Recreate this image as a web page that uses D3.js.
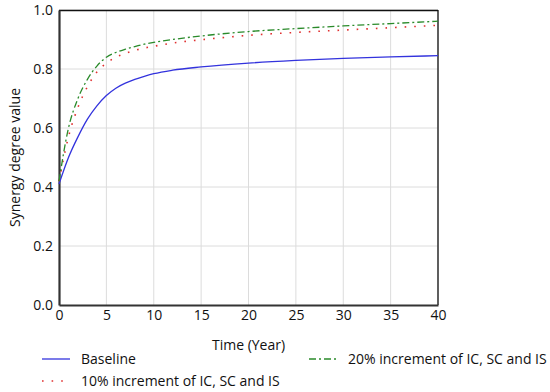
<!DOCTYPE html>
<html><head><meta charset="utf-8">
<script src="https://cdn.jsdelivr.net/npm/d3@7"></script>
<style>body{margin:0;background:#fff;}svg{display:block;font-family:"Open Sans","Noto Sans",sans-serif;}</style>
</head><body><svg id="c" width="550" height="392"></svg>
<script>
const years = [0,1,2,3,4,5,6,7,8,9,10,12,15,20,25,30,35,40];
const baseline = [0.41,0.50,0.57,0.63,0.675,0.71,0.735,0.752,0.765,0.775,0.784,0.796,0.807,0.820,0.829,0.836,0.841,0.845];
const inc10 = [0.42,0.57,0.67,0.74,0.79,0.82,0.840,0.853,0.863,0.871,0.877,0.888,0.899,0.914,0.924,0.932,0.940,0.948];
const inc20 = [0.42,0.60,0.70,0.765,0.81,0.84,0.856,0.867,0.876,0.884,0.890,0.900,0.912,0.927,0.937,0.946,0.954,0.962];
const xTicks = [0,5,10,15,20,25,30,35,40];
const yTicks = [0,0.2,0.4,0.6,0.8,1.0];
const seriesNames = ["Baseline","10% increment of IC, SC and IS","20% increment of IC, SC and IS"];

const svg = d3.select("#c");
const L=59,R=438,T=10,B=305;
const FS=14;
const x = d3.scaleLinear().domain([0,40]).range([L,R]);
const y = d3.scaleLinear().domain([0,1]).range([B,T]);

// grid
svg.append("g").selectAll("line").data(xTicks.slice(1)).join("line")
  .attr("x1",d=>x(d)).attr("x2",d=>x(d)).attr("y1",T).attr("y2",B)
  .attr("stroke","#dcdcdc").attr("stroke-width",1);
svg.append("g").selectAll("line").data(yTicks.slice(1)).join("line")
  .attr("x1",L).attr("x2",R).attr("y1",d=>y(d)).attr("y2",d=>y(d))
  .attr("stroke","#dcdcdc").attr("stroke-width",1);

// frame
svg.append("line").attr("x1",L).attr("x2",R).attr("y1",T+0.5).attr("y2",T+0.5).attr("stroke","#111").attr("stroke-width",1.3);
svg.append("line").attr("x1",R).attr("x2",R).attr("y1",T).attr("y2",B).attr("stroke","#111").attr("stroke-width",1.3);

// axes
const xa = svg.append("g").attr("transform",`translate(0,${B})`)
  .call(d3.axisBottom(x).tickValues(xTicks).tickSize(0).tickPadding(5).tickFormat(d3.format("d")));
const ya = svg.append("g").attr("transform",`translate(${L},0)`)
  .call(d3.axisLeft(y).tickValues(yTicks).tickSize(0).tickPadding(6).tickFormat(d3.format(".1f")));
[xa,ya].forEach(a=>{
  a.select(".domain").attr("stroke","#333").attr("stroke-width",2.2);
  a.selectAll("text").attr("font-size",FS).attr("fill","#111").attr("font-family","'Open Sans','Noto Sans',sans-serif");
});

const line = d3.line().x((d,i)=>x(years[i])).y(d=>y(d)).curve(d3.curveMonotoneX);
const styles = [
  {data:baseline,color:"#3333dd",dash:null,w:1.3},
  {data:inc10,color:"#e03030",dash:"1.6,8",w:1.6},
  {data:inc20,color:"#2a8a2a",dash:"7,3,2,3",w:1.3}
];
styles.forEach(s=>{
  svg.append("path").attr("d",line(s.data)).attr("fill","none")
    .attr("stroke",s.color).attr("stroke-width",s.w)
    .attr("stroke-dasharray",s.dash);
});

// axis titles
svg.append("text").attr("x",(L+R)/2).attr("y",350).attr("text-anchor","middle")
  .attr("font-size",FS).attr("fill","#111").text("Time (Year)");
svg.append("text").attr("transform",`translate(20,${(T+B)/2}) rotate(-90)`).attr("text-anchor","middle")
  .attr("font-size",FS).attr("fill","#111").text("Synergy degree value");

// legend
const leg = [{x:42,y:359},{x:42,y:381},{x:309,y:359}];
seriesNames.forEach((n,i)=>{
  const s=styles[i], p=leg[i];
  svg.append("line").attr("x1",p.x).attr("x2",p.x+28).attr("y1",p.y).attr("y2",p.y)
    .attr("stroke",s.color).attr("stroke-width",s.w).attr("stroke-dasharray",s.dash);
  svg.append("text").attr("x",p.x+39).attr("y",p.y+5).attr("font-size",FS).attr("fill","#111").text(n);
});
</script></body></html>
